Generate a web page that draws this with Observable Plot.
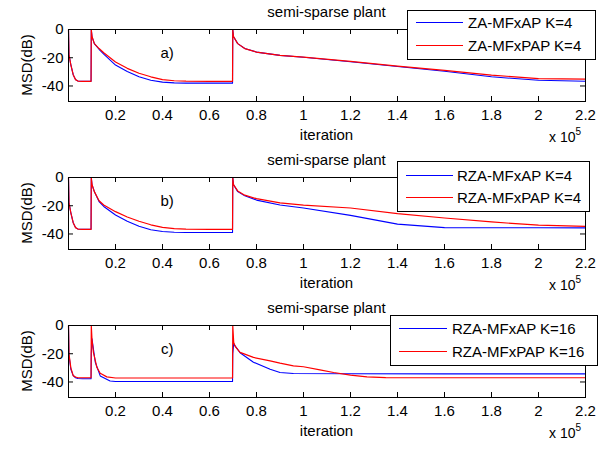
<!DOCTYPE html>
<html><head><meta charset="utf-8">
<script src="https://cdn.jsdelivr.net/npm/d3@7"></script>
<script src="https://cdn.jsdelivr.net/npm/@observablehq/plot@0.6"></script>
<style>
body{margin:0;background:#fff;}
#chart{width:610px;height:450px;background:#fff;}
#chart svg{display:block;}
</style>
</head><body><div id="chart"></div>
<script>
// ---- tick labels / texts ----
const xTicks = [0.2, 0.4, 0.6, 0.8, 1, 1.2, 1.4, 1.6, 1.8, 2, 2.2];
const yTicks = [0, -20, -40];
const panelTitle = "semi-sparse plant";
const panelLabels = ["a)", "b)", "c)"];
const legendNames = [
  ["ZA-MFxAP K=4", "ZA-MFxPAP K=4"],
  ["RZA-MFxAP K=4", "RZA-MFxPAP K=4"],
  ["RZA-MFxAP K=16", "RZA-MFxPAP K=16"]
];

// ---- iteration grid (x 10^5) shared by panels a and b ----
const xAB = [0, 0.002, 0.01, 0.02, 0.03, 0.04, 0.06, 0.096, 0.097, 0.1, 0.11, 0.13, 0.15, 0.2, 0.25, 0.3, 0.35, 0.4, 0.45, 0.5, 0.6, 0.698, 0.699, 0.702, 0.72, 0.75, 0.8, 0.9, 1.0, 1.2, 1.4, 1.6, 1.8, 2.0, 2.2];

// panel a) MSD (dB)
const aBlue = [0, -18, -25, -32, -35.5, -36.5, -36.7, -36.7, 0, -5, -10, -14, -17.5, -25.2, -29.8, -33.5, -36, -37.3, -37.8, -38, -38, -38, 0, -5, -10, -13.5, -16, -18.3, -19.7, -22.8, -26.2, -29.6, -33.5, -36, -36.7];
const aRed  = [0, -18, -25, -32, -35.5, -36.5, -36.7, -36.7, 0, -5, -10, -13.5, -16.5, -23, -27.5, -31, -33.5, -35.5, -36.3, -36.6, -36.7, -36.7, 0, -5, -10, -13.5, -16, -18.3, -19.6, -22.6, -25.9, -28.9, -32.3, -34.8, -35.2];

// panel b) MSD (dB)
const bBlue = [0, -18, -25, -32, -35.5, -36.5, -36.7, -36.7, 0, -5, -10, -17, -20.5, -26.6, -31, -34.5, -37, -38.3, -38.8, -39, -39, -39, 0, -5, -10, -13, -16, -19.5, -21.6, -26.8, -33, -35.5, -35.6, -35.6, -35.7];
const bRed  = [0, -18, -25, -32, -35.5, -36.5, -36.7, -36.7, 0, -5, -10, -16.5, -19.5, -24.2, -28, -31, -33.5, -35.3, -36.2, -36.5, -36.7, -36.7, 0, -5, -9.5, -12.5, -15, -18, -19.5, -21.6, -25.6, -28.7, -31.5, -33.8, -34.6];

// panel c) MSD (dB), own grids
const cBlueX = [0, 0.002, 0.01, 0.02, 0.03, 0.04, 0.06, 0.096, 0.097, 0.1, 0.114, 0.135, 0.177, 0.2, 0.4, 0.6, 0.698, 0.699, 0.703, 0.73, 0.787, 0.858, 0.9, 0.957, 1.2, 1.6, 2.2];
const cBlue  = [0, -21, -31, -35.5, -37, -37.5, -37.7, -37.7, -20, -9.5, -26, -35.7, -39.3, -39.7, -39.7, -39.7, -39.7, -20, -13, -19.3, -26, -31, -33.3, -34, -34.2, -34.3, -34.3];
const cRedX  = [0, 0.002, 0.01, 0.02, 0.03, 0.04, 0.06, 0.096, 0.097, 0.1, 0.106, 0.121, 0.135, 0.163, 0.2, 0.4, 0.6, 0.698, 0.699, 0.703, 0.71, 0.73, 0.787, 0.858, 0.9, 0.957, 1.0, 1.07, 1.128, 1.2, 1.27, 1.35, 1.6, 1.9, 2.2];
const cRed   = [0, -20, -30, -35.5, -36.5, -37, -37, -37, 0, -10, -19, -29.8, -33.8, -36.4, -37.2, -37.2, -37.2, -37.2, 0, -12, -15, -19, -22.6, -25, -26.7, -28.6, -29.2, -31.4, -33.3, -35.2, -36.4, -36.9, -37, -37, -37];

const zip = (xs, ys) => xs.map((x, i) => ({x, y: ys[i]}));

const panels = [
  {blue: zip(xAB, aBlue), red: zip(xAB, aRed)},
  {blue: zip(xAB, bBlue), red: zip(xAB, bRed)},
  {blue: zip(cBlueX, cBlue), red: zip(cRedX, cRed)}
];

// legend layout per panel (pixels)
const legendBox = [
  {x0: 407, x1: 595, y0: 10, y1: 59, l0: 416, l1: 463, tx: 468, r: [22, 45]},
  {x0: 397, x1: 589, y0: 13, y1: 63, l0: 406, l1: 453, tx: 457, r: [27, 49]},
  {x0: 390, x1: 597, y0: 19, y1: 69, l0: 399, l1: 447, tx: 452, r: [32, 55]}
];

const W = 610, H = 148, ML = 68, MR = 25, MT = 29, MB = 47;
const PW = W - ML - MR, PH = H - MT - MB;
const font = "'Liberation Sans', Arial, Helvetica, sans-serif";
const BLUE = "#0000ff", RED = "#ff0000";

const chart = document.getElementById("chart");

panels.forEach((p, i) => {
  const svg = Plot.plot({
    width: W, height: H,
    marginLeft: ML, marginRight: MR, marginTop: MT, marginBottom: MB,
    style: {fontFamily: font, fontSize: "15px", background: "white", color: "black", overflow: "visible"},
    x: {domain: [0, 2.2]},
    y: {domain: [-51, 0]},
    marks: [
      Plot.line(p.blue, {x: "x", y: "y", stroke: BLUE, strokeWidth: 1.1}),
      Plot.line(p.red, {x: "x", y: "y", stroke: RED, strokeWidth: 1.2}),
      Plot.ruleX(xTicks, {x: d => d, insetTop: PH - 5, stroke: "black"}),
      Plot.ruleX(xTicks, {x: d => d, insetBottom: PH - 5, stroke: "black"}),
      Plot.ruleY(yTicks, {y: d => d, insetRight: PW - 5, stroke: "black"}),
      Plot.ruleY(yTicks, {y: d => d, insetLeft: PW - 5, stroke: "black"}),
      Plot.frame({stroke: "black"}),
      Plot.axisX({ticks: xTicks, tickSize: 0, tickPadding: 8, tickFormat: d => String(d), label: null}),
      Plot.axisY({ticks: yTicks, tickSize: 0, tickPadding: 5, tickFormat: d => String(d), label: null}),
      Plot.text([panelLabels[i]], {x: 0.42, y: -17, text: d => d, fontSize: 15, fill: "black"})
    ]
  });
  const s = d3.select(svg);
  const g = s.append("g").attr("fill", "black").attr("font-family", font);
  const cx = ML + PW / 2;
  g.append("text").attr("x", cx).attr("y", 16.5).attr("text-anchor", "middle").attr("font-size", 15).text(panelTitle);
  g.append("text").attr("x", cx).attr("y", 140).attr("text-anchor", "middle").attr("font-size", 15).text("iteration");
  const t = g.append("text").attr("x", 549).attr("y", 142).attr("text-anchor", "start").attr("font-size", 14);
  t.append("tspan").text("x 10");
  t.append("tspan").attr("dy", -7).attr("font-size", 10).text("5");
  g.append("text").attr("transform", `translate(32,${MT + PH / 2}) rotate(-90)`).attr("text-anchor", "middle").attr("font-size", 15).text("MSD(dB)");
  // legend
  const L = legendBox[i];
  const lg = s.append("g");
  lg.append("rect").attr("x", L.x0 + 0.5).attr("y", L.y0 + 0.5).attr("width", L.x1 - L.x0).attr("height", L.y1 - L.y0)
    .attr("fill", "white").attr("stroke", "black");
  [BLUE, RED].forEach((c, k) => {
    lg.append("line").attr("x1", L.l0).attr("x2", L.l1).attr("y1", L.r[k] + 0.5).attr("y2", L.r[k] + 0.5).attr("stroke", c).attr("stroke-width", 1.2);
    lg.append("text").attr("x", L.tx).attr("y", L.r[k] + 5.5).attr("text-anchor", "start").attr("font-size", 15).attr("font-family", font).attr("fill", "black").text(legendNames[i][k]);
  });
  chart.appendChild(svg);
});
</script>
</body></html>
